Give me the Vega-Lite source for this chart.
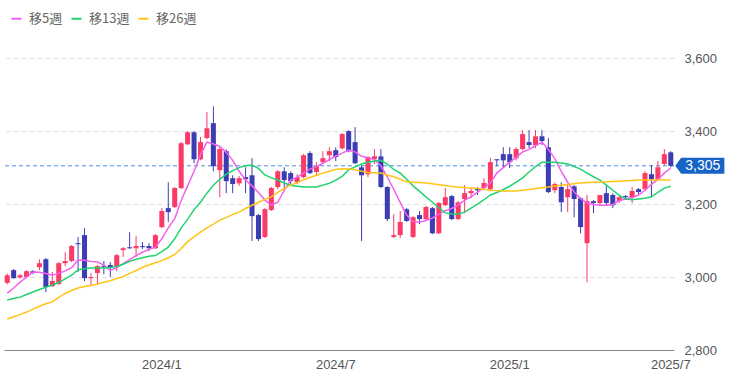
{
  "$schema": "https://vega.github.io/schema/vega-lite/v6.json",
  "width": 670,
  "height": 310,
  "autosize": {"type": "none"},
  "padding": {"left": 4, "top": 40, "right": 66, "bottom": 40},
  "background": "white",
  "config": {"view": {"stroke": null}, "font": "Liberation Sans"},
  "datasets": {
    "weekly": [
      {"date":"2023-07-21","open":2984,"high":3010,"low":2980,"close":3005,"ma5":2956,"ma13":2937,"ma26":2885},
      {"date":"2023-07-28","open":3019,"high":3022,"low":2995,"close":2997,"ma5":2970,"ma13":2941,"ma26":2891},
      {"date":"2023-08-04","open":2999,"high":3008,"low":2995,"close":3005,"ma5":2986,"ma13":2945,"ma26":2897},
      {"date":"2023-08-11","open":3000,"high":3019,"low":2997,"close":3016,"ma5":3000,"ma13":2952,"ma26":2904},
      {"date":"2023-08-18","open":3016,"high":3019,"low":3008,"close":3011,"ma5":3014,"ma13":2959,"ma26":2912},
      {"date":"2023-08-25","open":3027,"high":3049,"low":3019,"close":3038,"ma5":3013,"ma13":2966,"ma26":2920},
      {"date":"2023-09-01","open":3049,"high":3052,"low":2959,"close":2973,"ma5":3010,"ma13":2972,"ma26":2927},
      {"date":"2023-09-08","open":2975,"high":3014,"low":2973,"close":2989,"ma5":3005,"ma13":2978,"ma26":2932},
      {"date":"2023-09-15","open":2981,"high":3041,"low":2978,"close":3038,"ma5":3010,"ma13":2985,"ma26":2944},
      {"date":"2023-09-22","open":3038,"high":3068,"low":3030,"close":3044,"ma5":3017,"ma13":2995,"ma26":2955},
      {"date":"2023-09-29","open":3044,"high":3088,"low":3041,"close":3085,"ma5":3026,"ma13":3005,"ma26":2963},
      {"date":"2023-10-06","open":3093,"high":3110,"low":3014,"close":3090,"ma5":3047,"ma13":3020,"ma26":2970},
      {"date":"2023-10-13","open":3115,"high":3134,"low":2989,"close":2997,"ma5":3046,"ma13":3023,"ma26":2974},
      {"date":"2023-10-20","open":2997,"high":3011,"low":2978,"close":3000,"ma5":3043,"ma13":3025,"ma26":2977},
      {"date":"2023-10-27","open":3011,"high":3033,"low":2981,"close":3030,"ma5":3041,"ma13":3025,"ma26":2981},
      {"date":"2023-11-03","open":3030,"high":3044,"low":3008,"close":3027,"ma5":3033,"ma13":3025,"ma26":2986},
      {"date":"2023-11-10","open":3033,"high":3041,"low":3000,"close":3027,"ma5":3018,"ma13":3026,"ma26":2990},
      {"date":"2023-11-17","open":3030,"high":3063,"low":3016,"close":3060,"ma5":3026,"ma13":3029,"ma26":2996},
      {"date":"2023-11-24","open":3074,"high":3082,"low":3055,"close":3079,"ma5":3037,"ma13":3035,"ma26":3001},
      {"date":"2023-12-01","open":3082,"high":3123,"low":3077,"close":3079,"ma5":3048,"ma13":3043,"ma26":3010},
      {"date":"2023-12-08","open":3079,"high":3112,"low":3055,"close":3085,"ma5":3059,"ma13":3049,"ma26":3018},
      {"date":"2023-12-15","open":3085,"high":3096,"low":3077,"close":3082,"ma5":3068,"ma13":3053,"ma26":3027},
      {"date":"2023-12-22","open":3085,"high":3093,"low":3071,"close":3079,"ma5":3076,"ma13":3057,"ma26":3033},
      {"date":"2023-12-29","open":3079,"high":3118,"low":3077,"close":3115,"ma5":3082,"ma13":3059,"ma26":3039},
      {"date":"2024-01-05","open":3137,"high":3189,"low":3134,"close":3181,"ma5":3105,"ma13":3070,"ma26":3045},
      {"date":"2024-01-12","open":3189,"high":3260,"low":3151,"close":3178,"ma5":3135,"ma13":3082,"ma26":3053},
      {"date":"2024-01-19","open":3192,"high":3247,"low":3189,"close":3244,"ma5":3160,"ma13":3105,"ma26":3062},
      {"date":"2024-01-26","open":3244,"high":3370,"low":3241,"close":3367,"ma5":3210,"ma13":3135,"ma26":3078},
      {"date":"2024-02-02","open":3364,"high":3400,"low":3362,"close":3397,"ma5":3250,"ma13":3158,"ma26":3097},
      {"date":"2024-02-09","open":3397,"high":3400,"low":3312,"close":3323,"ma5":3290,"ma13":3185,"ma26":3110},
      {"date":"2024-02-16","open":3323,"high":3384,"low":3320,"close":3370,"ma5":3335,"ma13":3205,"ma26":3123},
      {"date":"2024-02-23","open":3381,"high":3452,"low":3378,"close":3408,"ma5":3370,"ma13":3230,"ma26":3135},
      {"date":"2024-03-01","open":3422,"high":3468,"low":3290,"close":3304,"ma5":3365,"ma13":3252,"ma26":3145},
      {"date":"2024-03-08","open":3293,"high":3356,"low":3219,"close":3351,"ma5":3358,"ma13":3268,"ma26":3156},
      {"date":"2024-03-15","open":3345,"high":3350,"low":3230,"close":3263,"ma5":3342,"ma13":3282,"ma26":3163},
      {"date":"2024-03-22","open":3271,"high":3279,"low":3230,"close":3255,"ma5":3320,"ma13":3292,"ma26":3172},
      {"date":"2024-03-29","open":3257,"high":3277,"low":3250,"close":3271,"ma5":3290,"ma13":3300,"ma26":3178},
      {"date":"2024-04-05","open":3274,"high":3301,"low":3230,"close":3268,"ma5":3266,"ma13":3305,"ma26":3188},
      {"date":"2024-04-12","open":3279,"high":3326,"low":3099,"close":3167,"ma5":3250,"ma13":3307,"ma26":3197},
      {"date":"2024-04-19","open":3170,"high":3173,"low":3099,"close":3104,"ma5":3232,"ma13":3298,"ma26":3205},
      {"date":"2024-04-26","open":3110,"high":3189,"low":3107,"close":3186,"ma5":3211,"ma13":3280,"ma26":3213},
      {"date":"2024-05-03","open":3184,"high":3247,"low":3181,"close":3244,"ma5":3197,"ma13":3272,"ma26":3220},
      {"date":"2024-05-10","open":3247,"high":3293,"low":3241,"close":3290,"ma5":3205,"ma13":3266,"ma26":3232},
      {"date":"2024-05-17","open":3290,"high":3301,"low":3244,"close":3266,"ma5":3238,"ma13":3258,"ma26":3243},
      {"date":"2024-05-24","open":3285,"high":3290,"low":3255,"close":3263,"ma5":3266,"ma13":3252,"ma26":3252},
      {"date":"2024-05-31","open":3260,"high":3282,"low":3255,"close":3274,"ma5":3274,"ma13":3249,"ma26":3259},
      {"date":"2024-06-07","open":3274,"high":3337,"low":3271,"close":3334,"ma5":3285,"ma13":3247,"ma26":3267},
      {"date":"2024-06-14","open":3340,"high":3345,"low":3282,"close":3285,"ma5":3296,"ma13":3247,"ma26":3273},
      {"date":"2024-06-21","open":3288,"high":3315,"low":3277,"close":3304,"ma5":3303,"ma13":3247,"ma26":3279},
      {"date":"2024-06-28","open":3315,"high":3345,"low":3310,"close":3326,"ma5":3312,"ma13":3252,"ma26":3285},
      {"date":"2024-07-05","open":3334,"high":3356,"low":3318,"close":3345,"ma5":3322,"ma13":3257,"ma26":3290},
      {"date":"2024-07-12","open":3348,"high":3356,"low":3318,"close":3329,"ma5":3332,"ma13":3266,"ma26":3295},
      {"date":"2024-07-19","open":3353,"high":3395,"low":3350,"close":3392,"ma5":3340,"ma13":3276,"ma26":3297},
      {"date":"2024-07-26","open":3400,"high":3403,"low":3342,"close":3345,"ma5":3348,"ma13":3294,"ma26":3296},
      {"date":"2024-08-02","open":3370,"high":3411,"low":3310,"close":3312,"ma5":3343,"ma13":3302,"ma26":3294},
      {"date":"2024-08-09","open":3301,"high":3307,"low":3099,"close":3279,"ma5":3331,"ma13":3310,"ma26":3290},
      {"date":"2024-08-16","open":3282,"high":3332,"low":3274,"close":3329,"ma5":3327,"ma13":3315,"ma26":3287},
      {"date":"2024-08-23","open":3323,"high":3351,"low":3310,"close":3331,"ma5":3322,"ma13":3318,"ma26":3286},
      {"date":"2024-08-30","open":3331,"high":3351,"low":3244,"close":3247,"ma5":3305,"ma13":3320,"ma26":3285},
      {"date":"2024-09-06","open":3247,"high":3249,"low":3153,"close":3159,"ma5":3275,"ma13":3310,"ma26":3280},
      {"date":"2024-09-13","open":3110,"high":3173,"low":3107,"close":3115,"ma5":3240,"ma13":3295,"ma26":3275},
      {"date":"2024-09-20","open":3115,"high":3181,"low":3107,"close":3151,"ma5":3205,"ma13":3285,"ma26":3268},
      {"date":"2024-09-27","open":3186,"high":3189,"low":3151,"close":3154,"ma5":3170,"ma13":3268,"ma26":3261},
      {"date":"2024-10-04","open":3110,"high":3167,"low":3107,"close":3164,"ma5":3152,"ma13":3250,"ma26":3260},
      {"date":"2024-10-11","open":3170,"high":3181,"low":3145,"close":3159,"ma5":3150,"ma13":3235,"ma26":3259},
      {"date":"2024-10-18","open":3159,"high":3195,"low":3156,"close":3192,"ma5":3155,"ma13":3220,"ma26":3258},
      {"date":"2024-10-25","open":3189,"high":3192,"low":3118,"close":3120,"ma5":3162,"ma13":3205,"ma26":3256},
      {"date":"2024-11-01","open":3120,"high":3206,"low":3118,"close":3203,"ma5":3172,"ma13":3190,"ma26":3253},
      {"date":"2024-11-08","open":3197,"high":3244,"low":3195,"close":3219,"ma5":3182,"ma13":3176,"ma26":3251},
      {"date":"2024-11-15","open":3222,"high":3225,"low":3156,"close":3159,"ma5":3188,"ma13":3173,"ma26":3248},
      {"date":"2024-11-22","open":3159,"high":3208,"low":3156,"close":3205,"ma5":3198,"ma13":3173,"ma26":3247},
      {"date":"2024-11-29","open":3214,"high":3252,"low":3175,"close":3230,"ma5":3210,"ma13":3178,"ma26":3245},
      {"date":"2024-12-06","open":3230,"high":3244,"low":3216,"close":3236,"ma5":3220,"ma13":3189,"ma26":3244},
      {"date":"2024-12-13","open":3244,"high":3247,"low":3225,"close":3238,"ma5":3233,"ma13":3200,"ma26":3243},
      {"date":"2024-12-20","open":3244,"high":3271,"low":3241,"close":3258,"ma5":3245,"ma13":3212,"ma26":3240},
      {"date":"2024-12-27","open":3241,"high":3326,"low":3238,"close":3315,"ma5":3258,"ma13":3225,"ma26":3238},
      {"date":"2025-01-03","open":3323,"high":3323,"low":3304,"close":3320,"ma5":3285,"ma13":3232,"ma26":3237},
      {"date":"2025-01-10","open":3337,"high":3356,"low":3301,"close":3320,"ma5":3300,"ma13":3240,"ma26":3236},
      {"date":"2025-01-17","open":3337,"high":3356,"low":3299,"close":3315,"ma5":3315,"ma13":3249,"ma26":3236},
      {"date":"2025-01-24","open":3326,"high":3356,"low":3320,"close":3351,"ma5":3328,"ma13":3260,"ma26":3236},
      {"date":"2025-01-31","open":3351,"high":3403,"low":3348,"close":3392,"ma5":3343,"ma13":3272,"ma26":3238},
      {"date":"2025-02-07","open":3370,"high":3403,"low":3353,"close":3362,"ma5":3350,"ma13":3288,"ma26":3240},
      {"date":"2025-02-14","open":3362,"high":3403,"low":3353,"close":3386,"ma5":3360,"ma13":3303,"ma26":3243},
      {"date":"2025-02-21","open":3386,"high":3403,"low":3362,"close":3373,"ma5":3370,"ma13":3315,"ma26":3245},
      {"date":"2025-02-28","open":3356,"high":3381,"low":3230,"close":3233,"ma5":3350,"ma13":3315,"ma26":3247},
      {"date":"2025-03-07","open":3238,"high":3260,"low":3230,"close":3255,"ma5":3325,"ma13":3315,"ma26":3250},
      {"date":"2025-03-14","open":3247,"high":3260,"low":3178,"close":3205,"ma5":3290,"ma13":3313,"ma26":3252},
      {"date":"2025-03-21","open":3219,"high":3255,"low":3178,"close":3241,"ma5":3260,"ma13":3310,"ma26":3254},
      {"date":"2025-03-28","open":3249,"high":3252,"low":3164,"close":3214,"ma5":3233,"ma13":3303,"ma26":3256},
      {"date":"2025-04-04","open":3216,"high":3219,"low":3120,"close":3137,"ma5":3215,"ma13":3296,"ma26":3258},
      {"date":"2025-04-11","open":3093,"high":3225,"low":2986,"close":3208,"ma5":3203,"ma13":3285,"ma26":3259},
      {"date":"2025-04-18","open":3208,"high":3211,"low":3175,"close":3203,"ma5":3199,"ma13":3275,"ma26":3260},
      {"date":"2025-04-25","open":3203,"high":3225,"low":3195,"close":3225,"ma5":3197,"ma13":3266,"ma26":3260},
      {"date":"2025-05-02","open":3230,"high":3249,"low":3195,"close":3203,"ma5":3197,"ma13":3252,"ma26":3261},
      {"date":"2025-05-09","open":3225,"high":3230,"low":3189,"close":3197,"ma5":3199,"ma13":3238,"ma26":3262},
      {"date":"2025-05-16","open":3208,"high":3222,"low":3203,"close":3219,"ma5":3210,"ma13":3224,"ma26":3263},
      {"date":"2025-05-23","open":3222,"high":3225,"low":3214,"close":3219,"ma5":3214,"ma13":3214,"ma26":3264},
      {"date":"2025-05-30","open":3219,"high":3247,"low":3203,"close":3236,"ma5":3218,"ma13":3212,"ma26":3265},
      {"date":"2025-06-06","open":3241,"high":3244,"low":3228,"close":3233,"ma5":3225,"ma13":3214,"ma26":3266},
      {"date":"2025-06-13","open":3241,"high":3290,"low":3236,"close":3285,"ma5":3238,"ma13":3216,"ma26":3266},
      {"date":"2025-06-20","open":3282,"high":3307,"low":3219,"close":3268,"ma5":3254,"ma13":3220,"ma26":3266},
      {"date":"2025-06-27","open":3268,"high":3318,"low":3266,"close":3301,"ma5":3268,"ma13":3232,"ma26":3266},
      {"date":"2025-07-04","open":3310,"high":3351,"low":3307,"close":3337,"ma5":3285,"ma13":3244,"ma26":3266},
      {"date":"2025-07-11","open":3342,"high":3345,"low":3301,"close":3305,"ma5":3299,"ma13":3249,"ma26":3266}
    ],
    "last": [{"date": "2025-07-11", "price": 3305}]
  },
  "layer": [
    {
      "data": {"name": "last"},
      "mark": {"type": "rule", "color": "#4a8fe3", "strokeWidth": 1, "strokeDash": [4, 3]},
      "encoding": {
        "y": {
          "field": "price",
          "type": "quantitative",
          "scale": {"domain": [2800, 3650], "nice": false, "zero": false},
          "axis": {
            "orient": "right",
            "title": null,
            "values": [2800, 3000, 3200, 3400, 3600],
            "format": ",.0f",
            "ticks": false,
            "domain": false,
            "labelFontSize": 13,
            "labelColor": "#555555",
            "labelPadding": 10,
            "grid": true,
            "gridDash": [4, 4],
            "gridColor": "#dddddd"
          }
        }
      }
    },
    {
      "data": {"name": "weekly"},
      "mark": {"type": "rule", "strokeWidth": 1},
      "encoding": {
        "x": {
          "field": "date",
          "type": "ordinal",
          "scale": {"type": "band", "paddingInner": 0.22, "paddingOuter": 0.11},
          "axis": {
            "title": null,
            "values": ["2024-01-05", "2024-07-12", "2025-01-17", "2025-07-11"],
            "labelExpr": "slice(datum.value, 0, 4) + '/' + toNumber(slice(datum.value, 5, 7))",
            "labelAngle": 0,
            "ticks": false,
            "grid": false,
            "domainColor": "#888888",
            "labelFontSize": 13,
            "labelColor": "#555555",
            "labelPadding": 8
          }
        },
        "y": {"field": "low", "type": "quantitative", "title": null},
        "y2": {"field": "high"},
        "color": {
          "condition": {"test": "datum.close >= datum.open", "value": "#fb3a66"},
          "value": "#3d3db3"
        }
      }
    },
    {
      "data": {"name": "weekly"},
      "mark": {"type": "bar"},
      "encoding": {
        "x": {"field": "date", "type": "ordinal"},
        "y": {"field": "open", "type": "quantitative", "title": null},
        "y2": {"field": "close"},
        "color": {
          "condition": {"test": "datum.close >= datum.open", "value": "#fb3a66"},
          "value": "#3d3db3"
        }
      }
    },
    {
      "data": {"name": "weekly"},
      "transform": [{"fold": ["ma5", "ma13", "ma26"], "as": ["key", "val"]}],
      "mark": {"type": "line", "strokeWidth": 1.5, "interpolate": "linear"},
      "encoding": {
        "x": {"field": "date", "type": "ordinal"},
        "y": {"field": "val", "type": "quantitative", "title": null},
        "color": {
          "field": "key",
          "type": "nominal",
          "scale": {"domain": ["ma5", "ma13", "ma26"], "range": ["#f45ff0", "#1fd46e", "#ffc414"]},
          "legend": {
            "orient": "none",
            "legendX": 6,
            "legendY": -28,
            "direction": "horizontal",
            "title": null,
            "symbolType": "stroke",
            "symbolSize": 100,
            "symbolStrokeWidth": 2,
            "labelFont": "Noto Sans CJK JP",
            "labelFontSize": 13,
            "labelColor": "#666666",
            "labelOffset": 6,
            "columnPadding": 4,
            "labelExpr": "datum.label == 'ma5' ? '移5週' : datum.label == 'ma13' ? '移13週' : '移26週'"
          }
        }
      }
    },
    {
      "data": {"name": "last"},
      "mark": {
        "type": "point",
        "shape": "M0.56,0 L1.3,-1 L6.7,-1 L6.7,1 L1.3,1 Z",
        "filled": true,
        "size": 256,
        "color": "#1763c6",
        "opacity": 1
      },
      "encoding": {
        "x": {"field": "date", "type": "ordinal"},
        "y": {"field": "price", "type": "quantitative", "title": null}
      }
    },
    {
      "data": {"name": "last"},
      "mark": {
        "type": "text",
        "dx": 32,
        "align": "center",
        "baseline": "middle",
        "color": "white",
        "fontSize": 14,
        "font": "Liberation Sans"
      },
      "encoding": {
        "x": {"field": "date", "type": "ordinal"},
        "y": {"field": "price", "type": "quantitative", "title": null},
        "text": {"field": "price", "type": "quantitative", "format": ","}
      }
    }
  ]
}
